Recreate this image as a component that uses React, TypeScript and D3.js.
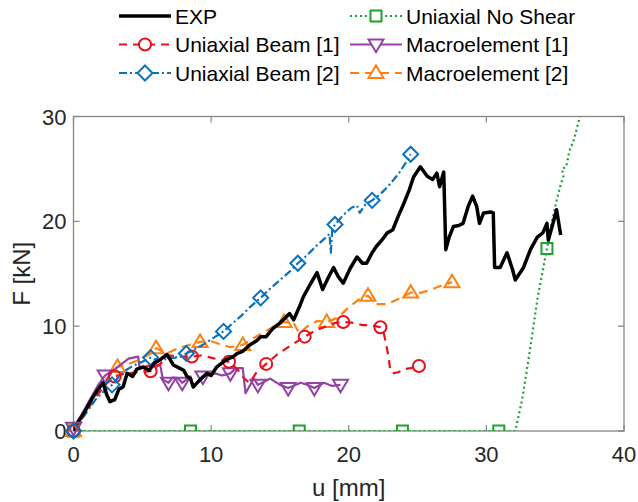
import React from 'react';
import * as d3 from 'd3';

// EXP
const uExp = [0, 0.3, 0.8, 1.3, 1.8, 2.15, 2.4, 2.65, 3.0, 3.3, 3.6, 3.9, 4.3, 4.6, 5.05, 5.5, 5.9, 6.3, 6.8, 7.25, 7.7, 8.0, 8.25, 8.5, 8.7, 9.2, 9.7, 10.0, 10.4, 11.1, 11.6, 11.9, 12.3, 12.8, 13.3, 13.6, 14.0, 14.5, 15.0, 15.4, 15.7, 16.0, 16.4, 16.7, 17.2, 17.7, 18.1, 18.5, 18.9, 19.2, 19.6, 20.1, 20.6, 21.0, 21.3, 21.7, 22.0, 22.4, 22.8, 23.2, 23.6, 24.0, 24.4, 24.7, 25.2, 25.7, 26.1, 26.4, 26.6, 26.9, 27.05, 27.3, 27.6, 28.0, 28.3, 28.7, 29.0, 29.3, 29.5, 29.8, 30.3, 30.5, 30.6, 31.0, 31.5, 31.9, 32.1, 32.7, 33.2, 33.7, 34.1, 34.4, 34.5, 34.9, 35.1, 35.4];
const fExp = [0, 0.8, 1.8, 3.0, 4.0, 4.6, 3.5, 2.8, 3.0, 4.0, 4.2, 5.5, 5.2, 5.9, 6.1, 5.8, 6.5, 6.8, 7.3, 6.3, 6.0, 5.8, 5.2, 5.0, 4.2, 4.9, 5.5, 5.3, 6.1, 6.8, 7.1, 7.4, 7.6, 8.2, 8.6, 9.0, 9.0, 9.8, 10.3, 10.8, 11.2, 10.6, 11.8, 12.8, 14.0, 15.1, 13.5, 14.6, 15.6, 14.8, 14.1, 15.5, 16.6, 16.0, 16.0, 17.0, 17.6, 18.2, 18.9, 19.2, 20.5, 21.7, 23.0, 24.2, 25.2, 24.3, 24.0, 24.6, 23.3, 24.7, 17.3, 18.5, 19.5, 19.6, 19.8, 21.5, 22.4, 21.4, 19.8, 20.8, 20.9, 20.8, 15.6, 15.6, 17.0, 15.4, 14.4, 15.6, 17.3, 18.5, 18.9, 19.8, 18.2, 20.1, 21.1, 18.7];

// Uniaxial Beam [1]
const uUb1 = [0, 0.8, 1.6, 2.3, 3.0, 3.8, 4.6, 5.6, 6.3, 7.0, 7.8, 8.6, 9.3, 10.0, 10.6, 11.3, 11.9, 12.4, 12.8, 13.3, 14.0, 14.8, 15.6, 16.2, 16.8, 17.6, 18.4, 19.0, 19.6, 20.4, 21.0, 21.6, 22.3, 22.5, 22.7, 22.9, 23.0, 23.2, 23.6, 24.0, 24.5, 25.1];
const fUb1 = [0, 1.6, 3.2, 4.4, 5.2, 5.5, 5.6, 5.7, 6.4, 7.2, 7.1, 7.1, 7.2, 7.0, 6.8, 6.6, 5.9, 5.0, 4.6, 5.6, 6.4, 7.3, 8.0, 8.5, 9.0, 9.6, 10.0, 10.3, 10.4, 10.3, 10.1, 10.1, 9.9, 9.6, 8.4, 7.0, 6.0, 5.5, 5.6, 5.9, 6.0, 6.2];
const uUb1Mk = [0, 3.0, 5.6, 8.6, 11.3, 14.0, 16.8, 19.6, 22.3, 25.1];
const fUb1Mk = [0, 5.2, 5.7, 7.1, 6.6, 6.4, 9.0, 10.4, 9.9, 6.2];

// Uniaxial Beam [2]
const uUb2 = [0, 0.8, 1.6, 2.3, 2.8, 3.3, 3.8, 4.3, 5.0, 5.6, 6.2, 6.8, 7.4, 8.2, 8.8, 9.5, 10.2, 10.9, 11.5, 12.2, 12.8, 13.6, 14.3, 15.0, 15.7, 16.3, 17.0, 17.6, 18.2, 18.6, 18.7, 18.8, 19.0, 19.6, 20.2, 20.6, 20.8, 21.2, 21.7, 22.3, 22.9, 23.6, 24.1, 24.5];
const fUb2 = [0, 1.5, 3.0, 3.9, 4.4, 5.2, 5.8, 6.2, 6.6, 7.0, 6.7, 6.9, 7.0, 7.4, 7.8, 8.3, 8.9, 9.5, 10.2, 11.0, 11.8, 12.7, 13.6, 14.4, 15.2, 16.0, 16.8, 17.6, 18.3, 18.8, 17.0, 19.2, 19.7, 20.6, 21.3, 21.5, 20.8, 21.6, 22.0, 22.6, 23.4, 24.5, 25.5, 26.4];
const uUb2Mk = [0, 2.8, 5.6, 8.2, 10.9, 13.6, 16.3, 19.0, 21.7, 24.5];
const fUb2Mk = [0, 4.4, 7.0, 7.4, 9.5, 12.7, 16.0, 19.7, 22.0, 26.4];

// Uniaxial No Shear
const uUns = [0, 32.1, 32.6, 33.2, 33.7, 34.4, 34.8, 35.1, 35.4, 35.6, 35.5, 35.8, 36.0, 36.1, 36.3, 36.5, 36.8];
const fUns = [0, 0, 3, 8, 12.5, 17.4, 20.2, 22, 23.5, 24.3, 25.0, 25.2, 26.5, 27, 27.5, 28.5, 30];
const uUnsMk = [0, 8.5, 16.4, 23.9, 30.9, 34.4];
const fUnsMk = [0, 0, 0, 0, 0, 17.4];

// Macroelement [1]
const uMe1 = [0, 0.6, 1.2, 1.8, 2.3, 2.9, 3.5, 4.0, 4.7, 4.8, 5.5, 6.3, 6.5, 6.9, 7.2, 7.6, 7.9, 8.5, 8.7, 9.4, 10.3, 10.8, 11.4, 11.8, 12.3, 12.5, 13.1, 13.4, 14.3, 15.0, 15.6, 16.5, 17.0, 17.5, 18.2, 18.8, 19.4];
const fMe1 = [0.3, 1.6, 3.0, 4.4, 5.3, 5.8, 6.4, 6.9, 7.1, 6.1, 6.2, 6.3, 4.9, 4.6, 5.1, 5.0, 4.6, 5.2, 4.2, 5.2, 5.5, 5.3, 5.5, 6.0, 6.0, 3.6, 5.0, 4.4, 5.0, 4.4, 4.1, 4.6, 4.4, 4.1, 4.6, 4.3, 4.4];
const uMe1Mk = [0, 2.3, 6.9, 7.9, 9.4, 11.4, 13.4, 15.6, 17.5, 19.4];
const fMe1Mk = [0.3, 5.3, 4.6, 4.6, 5.2, 5.5, 4.4, 4.1, 4.1, 4.4];

// Macroelement [2]
const uMe2 = [0, 0.8, 1.6, 2.4, 3.2, 4.0, 4.8, 5.5, 6.0, 6.8, 7.6, 8.4, 9.2, 9.9, 10.6, 11.4, 12.3, 13.0, 13.8, 14.6, 15.3, 16.0, 16.4, 17.0, 17.7, 18.4, 19.2, 20.0, 20.8, 21.4, 22.0, 22.8, 23.6, 24.5, 25.3, 26.0, 26.8, 27.5];
const fMe2 = [0, 1.8, 3.6, 5.0, 6.1, 6.4, 6.8, 7.3, 7.9, 7.4, 7.9, 8.2, 8.5, 8.6, 8.3, 8.0, 8.2, 8.8, 9.4, 10.0, 10.4, 10.3, 9.3, 10.0, 10.5, 10.4, 10.8, 11.8, 12.6, 12.9, 12.1, 12.1, 12.6, 13.2, 13.2, 13.5, 13.9, 14.2];
const uMe2Mk = [0, 3.2, 6.0, 9.2, 12.3, 15.3, 18.4, 21.4, 24.5, 27.5];
const fMe2Mk = [0, 6.1, 7.9, 8.5, 8.2, 10.4, 10.4, 12.9, 13.2, 14.2];

const xTicks = [0, 10, 20, 30, 40];
const yTicks = [0, 10, 20, 30];

type Shape = 'none' | 'circle' | 'diamond' | 'square' | 'down' | 'up';

const markerPath = (shape: Shape, x: number, y: number): string => {
  if (shape === 'circle') {
    const r = 6;
    return `M${x - r},${y}a${r},${r} 0 1,0 ${2 * r},0a${r},${r} 0 1,0 ${-2 * r},0Z`;
  }
  if (shape === 'diamond') {
    const r = 7.5;
    return `M${x},${y - r}L${x + r},${y}L${x},${y + r}L${x - r},${y}Z`;
  }
  if (shape === 'square') {
    const r = 5.5;
    return `M${x - r},${y - r}H${x + r}V${y + r}H${x - r}Z`;
  }
  if (shape === 'down') {
    return `M${x - 7.5},${y - 5}L${x + 7.5},${y - 5}L${x},${y + 7.5}Z`;
  }
  if (shape === 'up') {
    return `M${x - 7.5},${y + 5}L${x + 7.5},${y + 5}L${x},${y - 7.5}Z`;
  }
  return '';
};

const series = [
  { name: 'Uniaxial No Shear', u: uUns, f: fUns, mu: uUnsMk, mf: fUnsMk, color: '#1ea02e', dash: '2,3', width: 2.2, shape: 'square' as Shape },
  { name: 'Macroelement [2]', u: uMe2, f: fMe2, mu: uMe2Mk, mf: fMe2Mk, color: '#ff8010', dash: '9,6', width: 2.2, shape: 'up' as Shape },
  { name: 'Macroelement [1]', u: uMe1, f: fMe1, mu: uMe1Mk, mf: fMe1Mk, color: '#9442a6', dash: '', width: 2.2, shape: 'down' as Shape },
  { name: 'Uniaxial Beam [1]', u: uUb1, f: fUb1, mu: uUb1Mk, mf: fUb1Mk, color: '#e8101a', dash: '8,6', width: 2.2, shape: 'circle' as Shape },
  { name: 'Uniaxial Beam [2]', u: uUb2, f: fUb2, mu: uUb2Mk, mf: fUb2Mk, color: '#0a72bd', dash: '8,3,2,3', width: 2.2, shape: 'diamond' as Shape },
  { name: 'EXP', u: uExp, f: fExp, mu: [], mf: [], color: '#000000', dash: '', width: 3.5, shape: 'none' as Shape },
];

const legendRows = [
  ['EXP', 'Uniaxial No Shear'],
  ['Uniaxial Beam [1]', 'Macroelement [1]'],
  ['Uniaxial Beam [2]', 'Macroelement [2]'],
];

const W = 638;
const H = 502;
const left = 73.5, right = 624, top = 116.5, bottom = 431;
const font = 'Liberation Sans, Arial, Helvetica, sans-serif';
const axisColor = '#858585';
const textColor = '#262626';

export default function App() {
  const x = d3.scaleLinear().domain([0, 40]).range([left, right]);
  const y = d3.scaleLinear().domain([0, 30]).range([bottom, top]);

  const lineGen = d3.line<[number, number]>().x(d => x(d[0])).y(d => y(d[1]));

  const find = (name: string) => series.find(s => s.name === name)!;

  return (
    <svg width={W} height={H} style={{ position: 'absolute', left: 0, top: 0, background: '#fff' }}>
      <defs>
        <clipPath id="plot">
          <rect x={left} y={top} width={right - left} height={bottom - top} />
        </clipPath>
      </defs>

      {/* frame and ticks */}
      <rect x={left} y={top} width={right - left} height={bottom - top} fill="none" stroke={axisColor} strokeWidth={1.3} />
      {xTicks.map(t => (
        <g key={'xt' + t}>
          <line x1={x(t)} x2={x(t)} y1={bottom} y2={bottom - 6} stroke={axisColor} strokeWidth={1.2} />
          <line x1={x(t)} x2={x(t)} y1={top} y2={top + 6} stroke={axisColor} strokeWidth={1.2} />
          <text x={x(t)} y={bottom + 31} textAnchor="middle" fontFamily={font} fontSize={22} fill={textColor}>{t}</text>
        </g>
      ))}
      {yTicks.map(t => (
        <g key={'yt' + t}>
          <line x1={left} x2={left + 6} y1={y(t)} y2={y(t)} stroke={axisColor} strokeWidth={1.2} />
          <line x1={right} x2={right - 6} y1={y(t)} y2={y(t)} stroke={axisColor} strokeWidth={1.2} />
          <text x={left - 7} y={y(t) + 8} textAnchor="end" fontFamily={font} fontSize={22} fill={textColor}>{t}</text>
        </g>
      ))}
      <text x={(left + right) / 2} y={496} textAnchor="middle" fontFamily={font} fontSize={24} fill={textColor}>u [mm]</text>
      <text transform={`translate(30,${(top + bottom) / 2}) rotate(-90)`} textAnchor="middle" fontFamily={font} fontSize={24} fill={textColor}>F [kN]</text>

      {/* data */}
      <g clipPath="url(#plot)">
        {series.map(s => (
          <g key={s.name}>
            <path
              d={lineGen(s.u.map((u, i) => [u, s.f[i]] as [number, number])) || ''}
              fill="none"
              stroke={s.color}
              strokeWidth={s.width}
              strokeDasharray={s.dash || undefined}
              strokeLinejoin="round"
            />
            {s.mu.map((u, i) => (
              <path key={i} d={markerPath(s.shape, x(u), y(s.mf[i]))} fill="none" stroke={s.color} strokeWidth={2} />
            ))}
          </g>
        ))}
      </g>
      {/* markers at origin drawn on top of axis */}
      {series.filter(s => s.mu.length).map(s => (
        <path key={'o' + s.name} d={markerPath(s.shape, x(s.mu[0]), y(s.mf[0]))} fill="none" stroke={s.color} strokeWidth={2} />
      ))}

      {/* legend */}
      {legendRows.map((row, r) =>
        row.map((name, c) => {
          const s = find(name);
          const ly = 16 + r * 28.5;
          const lx0 = c === 0 ? 119 : 350;
          const lx1 = lx0 + 52;
          return (
            <g key={name}>
              <line x1={lx0} x2={lx1} y1={ly} y2={ly} stroke={s.color} strokeWidth={s.width} strokeDasharray={s.dash || undefined} />
              {s.shape !== 'none' && (
                <path d={markerPath(s.shape, (lx0 + lx1) / 2, ly)} fill="#fff" stroke={s.color} strokeWidth={2} />
              )}
              <text x={lx1 + 4} y={ly + 7.5} fontFamily={font} fontSize={21} fill="#000">{name}</text>
            </g>
          );
        })
      )}
    </svg>
  );
}
